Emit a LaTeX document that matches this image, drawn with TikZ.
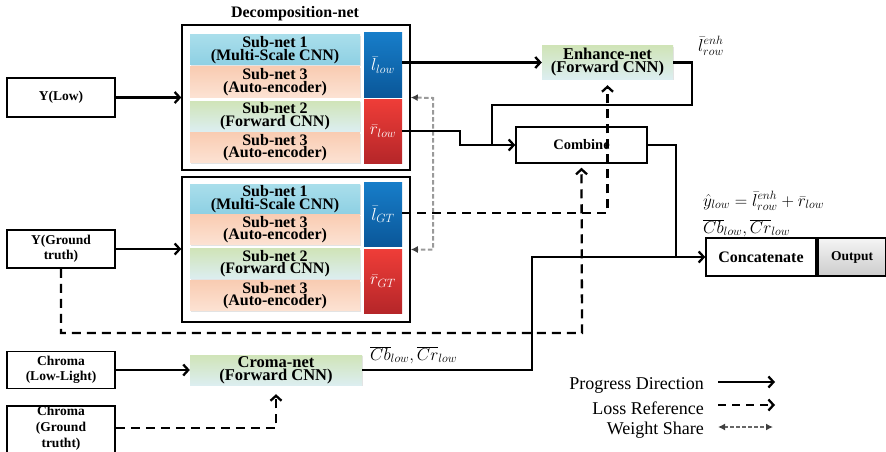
\documentclass[tikz,border=0pt]{standalone}
\usepackage{fontspec}
\setmainfont{Liberation Serif}
\usetikzlibrary{arrows.meta,shadows}

\definecolor{cyanTop}{HTML}{A9DEEB}
\definecolor{cyanBot}{HTML}{8ED0E3}
\definecolor{peachTop}{HTML}{F9CCB2}
\definecolor{peachBot}{HTML}{FCE2D3}
\definecolor{greenTop}{HTML}{D0E4B8}
\definecolor{greenBot}{HTML}{DCEEF0}
\definecolor{blueTop}{HTML}{177DC9}
\definecolor{blueBot}{HTML}{0A5799}
\definecolor{redTop}{HTML}{EF3D38}
\definecolor{redBot}{HTML}{B52629}
\definecolor{wsGray}{HTML}{9A9A9A}

\tikzset{
  box/.style={draw, line width=1.5pt, fill=white, align=center, inner sep=0pt,
    font=\bfseries\fontsize{13.5}{15.5}\selectfont},
  frame/.style={draw, line width=1.5pt, inner sep=0pt},
  subbox/.style={align=center, inner sep=0pt, minimum width=170pt, minimum height=30pt,
    font=\bfseries\fontsize{16}{12.5}\selectfont,
    drop shadow={shadow xshift=1pt, shadow yshift=-1.2pt, opacity=0.22}},
  subcyan/.style={subbox, top color=cyanTop, bottom color=cyanBot},
  subpeach/.style={subbox, top color=peachTop, bottom color=peachBot},
  subgreen/.style={subbox, top color=greenTop, bottom color=greenBot},
  bar/.style={inner sep=0pt, minimum width=38pt, minimum height=64pt, text=white,
    font=\fontsize{17}{17}\selectfont},
  bluebar/.style={bar, top color=blueTop, bottom color=blueBot},
  redbar/.style={bar, top color=redTop, bottom color=redBot},
  netbox/.style={align=center, inner sep=0pt, top color=greenTop, bottom color=greenBot,
    font=\bfseries\fontsize{16.5}{13}\selectfont,
    drop shadow={shadow xshift=1pt, shadow yshift=-1.2pt, opacity=0.22}},
  plain/.style={line width=2.3pt},
  flow/.style={plain, -{Straight Barb[length=5pt,width=11pt,line width=2.3pt]}},
  loss/.style={flow, dash pattern=on 9pt off 6pt},
  ws/.style={draw=wsGray, line width=2pt, dash pattern=on 4.5pt off 2.5pt,
    {Latex[length=7pt,width=7pt,black!75]}-{Latex[length=7pt,width=7pt,black!75]}},
  legend/.style={anchor=east, inner sep=0pt, font=\fontsize{18}{18}\selectfont},
  mathlbl/.style={inner sep=0pt, font=\fontsize{18}{18}\selectfont}
}

\begin{document}
\begin{tikzpicture}[x=1pt,y=-1pt]
\useasboundingbox (0,0) rectangle (886,452);
\clip (0,0) rectangle (886,452);

% ---------- decomposition network (low-light branch) ----------
\node[font=\bfseries\fontsize{16}{16}\selectfont, inner sep=0pt] (dtitle) at (295,14) {Decomposition-net};
\node[frame, minimum width=228pt, minimum height=145pt] (dtop) at (296,97.5) {};
\node[subcyan]  (t1) at (275,50)  {Sub-net 1\\(Multi-Scale CNN)};
\node[subpeach] (t2) at (275,82)  {Sub-net 3\\(Auto-encoder)};
\node[subgreen] (t3) at (275,116) {Sub-net 2\\(Forward CNN)};
\node[subpeach] (t4) at (275,147.5) {Sub-net 3\\(Auto-encoder)};
\node[bluebar] (ltop) at (383,65)  {$\bar{l}_{low}$};
\node[redbar]  (rtop) at (383,131) {$\bar{r}_{low}$};

% ---------- decomposition network (ground-truth branch) ----------
\node[frame, minimum width=228pt, minimum height=145pt] (dbot) at (296,249.5) {};
\node[subcyan]  (b1) at (275,199)   {Sub-net 1\\(Multi-Scale CNN)};
\node[subpeach] (b2) at (275,229.5) {Sub-net 3\\(Auto-encoder)};
\node[subgreen] (b3) at (275,263.5) {Sub-net 2\\(Forward CNN)};
\node[subpeach] (b4) at (275,295.5) {Sub-net 3\\(Auto-encoder)};
\node[bluebar] (lbot) at (383,214.5) {$\bar{l}_{GT}$};
\node[redbar]  (rbot) at (383,281)   {$\bar{r}_{GT}$};

% ---------- inputs ----------
\node[box, minimum width=108pt, minimum height=39pt] (ylow) at (61,97.5) {Y(Low)};
\node[box, minimum width=108pt, minimum height=38pt] (ygt)  at (61,249)  {Y(Ground\\truth)};
\node[box, minimum width=108pt, minimum height=37pt] (chl)  at (61,370) {Chroma\\(Low-Light)};
\node[box, minimum width=108pt, minimum height=60pt, anchor=north] (chg) at (61,405) {};
\node[font=\bfseries\fontsize{13.5}{16}\selectfont, align=center, inner sep=0pt] (chgtxt) at (61,428) {Chroma\\(Ground\\trutht)};

% ---------- processing blocks ----------
\node[netbox, minimum width=131pt, minimum height=33pt] (enh) at (607.5,62.5) {Enhance-net\\(Forward CNN)};
\node[box, minimum width=131pt, minimum height=36pt, font=\bfseries\fontsize{14.5}{14.5}\selectfont] (comb) at (581.5,145) {Combine};
\node[netbox, minimum width=172pt, minimum height=30pt] (croma) at (276,370) {Croma-net\\(Forward CNN)};
\node[box, minimum width=110pt, minimum height=38pt, font=\bfseries\fontsize{16}{16}\selectfont] (concat) at (761,257) {Concatenate};
\node[box, minimum width=68pt, minimum height=38pt, top color=gray!8, bottom color=gray!40,
      font=\bfseries\fontsize{13.5}{13.5}\selectfont] (out) at (852,257) {Output};

% ---------- labels ----------
\node[mathlbl, anchor=west] (enhlbl) at (698,46) {$\bar{l}^{enh}_{row}$};
\node[mathlbl, anchor=west] (yhat) at (703,201) {$\hat{y}_{low}=\bar{l}^{enh}_{row}+\bar{r}_{low}$};
\node[mathlbl, anchor=west] (cbcr) at (703,228) {$\overline{Cb}_{low},\overline{Cr}_{low}$};
\node[mathlbl, anchor=west] (cbcr2) at (370,355) {$\overline{Cb}_{low},\overline{Cr}_{low}$};

% ---------- bend points ----------
\coordinate (wsx) at (433,98);
\coordinate (rb) at (460,131);
\coordinate (eb) at (692,105);
\coordinate (jr) at (492,145);
\coordinate (cb) at (676,257);
\coordinate (crb) at (532,370);
\coordinate (gtl) at (582,333);

% ---------- connectors ----------
\draw[flow] (ylow.east) -- (ylow.east -| dtop.west);
\draw[flow] (ygt.east) -- (ygt.east -| dbot.west);
\draw[ws] (dtop.east) -- (wsx) |- (dbot.east);
\draw[flow] (ltop.east |- enh.west) -- (enh.west);
\draw[flow] (rtop.east) -- (rb) |- (comb.west);
\draw[plain] (enh.east) -| (eb) -| (jr);
\draw[plain] (comb.east) -| (cb);
\draw[flow] (croma.east) -- (crb) |- (concat.west);
\draw[flow] (chl.east) -- (croma.west);
\draw[loss] (lbot.east |- 0,213) -| ([yshift=-6pt]enh.south);
\draw[loss] (ygt.south) |- (gtl) -- ([yshift=-4pt]comb.south);
\draw[loss] ([yshift=-23pt]chg.north east) -| ([yshift=-9pt]croma.south);

% ---------- legend ----------
\node[legend] (lg1) at (704,385) {Progress Direction};
\node[legend] (lg2) at (704,408) {Loss Reference};
\node[legend] (lg3) at (704,430) {Weight Share};
\coordinate (lg1a) at (718,382); \coordinate (lg1b) at (775,382);
\coordinate (lg2a) at (718,405); \coordinate (lg2b) at (775,405);
\coordinate (lg3a) at (718,427); \coordinate (lg3b) at (773,427);
\draw[flow] (lg1a) -- (lg1b);
\draw[flow, dash pattern=on 8pt off 6pt] (lg2a) -- (lg2b);
\draw[ws, draw=black!60, line width=1.6pt, dash pattern=on 4pt off 2pt] (lg3a) -- (lg3b);
\end{tikzpicture}
\end{document}
